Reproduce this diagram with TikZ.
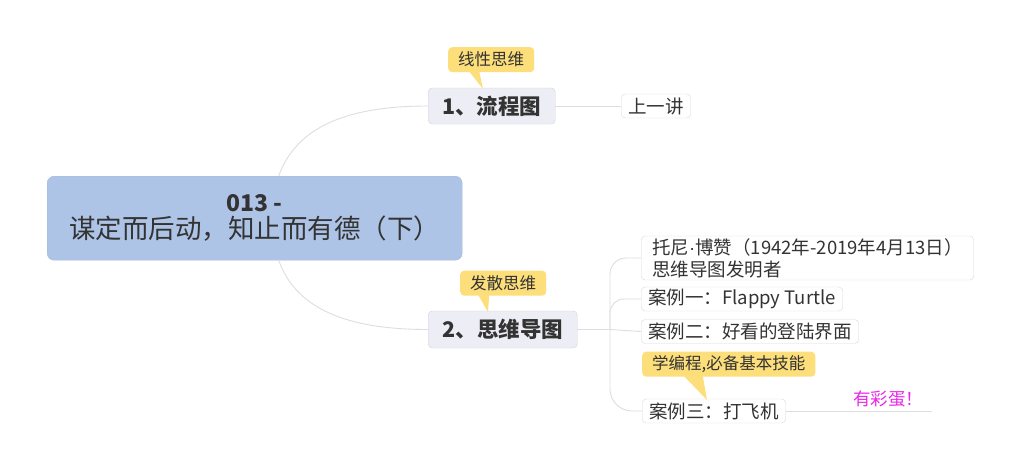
\documentclass[tikz,border=0pt]{standalone}
\usepackage{fontspec}
\setmainfont{Noto Sans CJK SC}
\newfontfamily\latinfont{Liberation Sans}
\usetikzlibrary{positioning}
\definecolor{rootblue}{RGB}{174,196,230}
\definecolor{rootedge}{RGB}{164,186,222}
\definecolor{topicfill}{RGB}{237,237,245}
\definecolor{topicedge}{RGB}{210,210,222}
\definecolor{noteyellow}{RGB}{252,222,122}
\definecolor{leafedge}{RGB}{218,218,218}
\definecolor{branchgray}{RGB}{222,222,222}
\definecolor{inkgray}{RGB}{51,51,51}
\definecolor{eggpink}{RGB}{232,40,232}

\begin{document}
\begin{tikzpicture}[x=1pt, y=-1pt,
	rootbox/.style={draw=rootedge, fill=rootblue, rounded corners=7pt, align=center, text=inkgray, inner sep=0pt},
	topicbox/.style={draw=topicedge, fill=topicfill, rounded corners=4pt, text=inkgray, font=\fontsize{21.5}{24}\selectfont\bfseries, inner sep=0pt},
	leafbox/.style={draw=leafedge, fill=white, rounded corners=4pt, text=inkgray, font=\fontsize{18.5}{22}\selectfont, inner xsep=7pt, inner ysep=0pt, minimum height=24pt},
	notebox/.style={fill=noteyellow, rounded corners=4pt, text=inkgray, font=\fontsize{16.5}{19}\selectfont, inner xsep=10pt, inner ysep=0pt, minimum height=25pt},
	branch/.style={draw=branchgray, line width=0.9pt}]
	\fill[white] (0,0) rectangle (1024,471);
	\useasboundingbox (0,0) rectangle (1024,471);

	\node[rootbox, minimum width=415pt, minimum height=84pt, anchor=north west] (root) at (47,176) {{\fontsize{23}{30}\selectfont\bfseries 013 -}\\[3pt]{\fontsize{26.5}{30}\selectfont 谋定而后动，知止而有德（下）}};

	\node[topicbox, minimum width=127pt, minimum height=36pt, anchor=west] (flow) at (428,106) {1、流程图};
	\node[topicbox, minimum width=149pt, minimum height=37pt, anchor=west] (mindmap) at (428,329.5) {2、思维导图};

	\node[leafbox, anchor=west] (prev) at (621,106) {上一讲};
	\node[leafbox, anchor=west, align=left, minimum height=44pt, inner xsep=11pt] (tony) at (641,258) {托尼{\latinfont ·}博赞（1942年-2019年4月13日）\\思维导图发明者};
	\node[leafbox, anchor=west] (case1) at (641,299) {案例一：Flappy Turtle};
	\node[leafbox, anchor=west] (case2) at (641,331.5) {案例二：好看的登陆界面};
	\node[leafbox, anchor=west] (case3) at (642,411) {案例三：打飞机};
	\coordinate (eggend) at (932,411);
	\coordinate (spine) at (610,329.5);

	\node[notebox, anchor=north west] (linear) at (448,47) {线性思维};
	\node[notebox, anchor=north west] (spread) at (460,270.5) {发散思维};
	\node[notebox, anchor=north west] (skill) at (642,351.5) {学编程,必备基本技能};
	\coordinate (lineartip) at (483,89);
	\coordinate (spreadtip) at (488,312);
	\coordinate (skilltip) at (707,400);

	\fill[noteyellow] ([xshift=-22pt, yshift=1pt]linear.south) -- ([xshift=-12pt, yshift=1pt]linear.south) -- (lineartip) -- cycle;
	\fill[noteyellow] ([xshift=-25pt, yshift=1pt]spread.south) -- ([xshift=-14pt, yshift=1pt]spread.south) -- (spreadtip) -- cycle;
	\fill[noteyellow] ([xshift=-45pt, yshift=1pt]skill.south) -- ([xshift=-26pt, yshift=1pt]skill.south) -- (skilltip) -- cycle;

	\draw[branch] ([xshift=24pt]root.north) .. controls (296,128) and (345,106) .. (flow.west);
	\draw[branch] ([xshift=24pt]root.south) .. controls (296,308) and (345,329.5) .. (mindmap.west);
	\draw[branch] (flow.east) -- (prev.west);

	\draw[branch] (mindmap.east) -- (spine);
	\draw[branch, rounded corners=16pt] (spine) |- (tony.west);
	\draw[branch, rounded corners=14pt] (spine) |- (case1.west);
	\draw[branch] (spine) -- (case2.west);
	\draw[branch, rounded corners=22pt] (spine) |- (case3.west);
	\draw[branch] (case3.east) -- node[pos=0.7, above=0pt, text=eggpink, font=\fontsize{17.5}{20}\selectfont] (egg) {有彩蛋！} (eggend);
\end{tikzpicture}
\end{document}
